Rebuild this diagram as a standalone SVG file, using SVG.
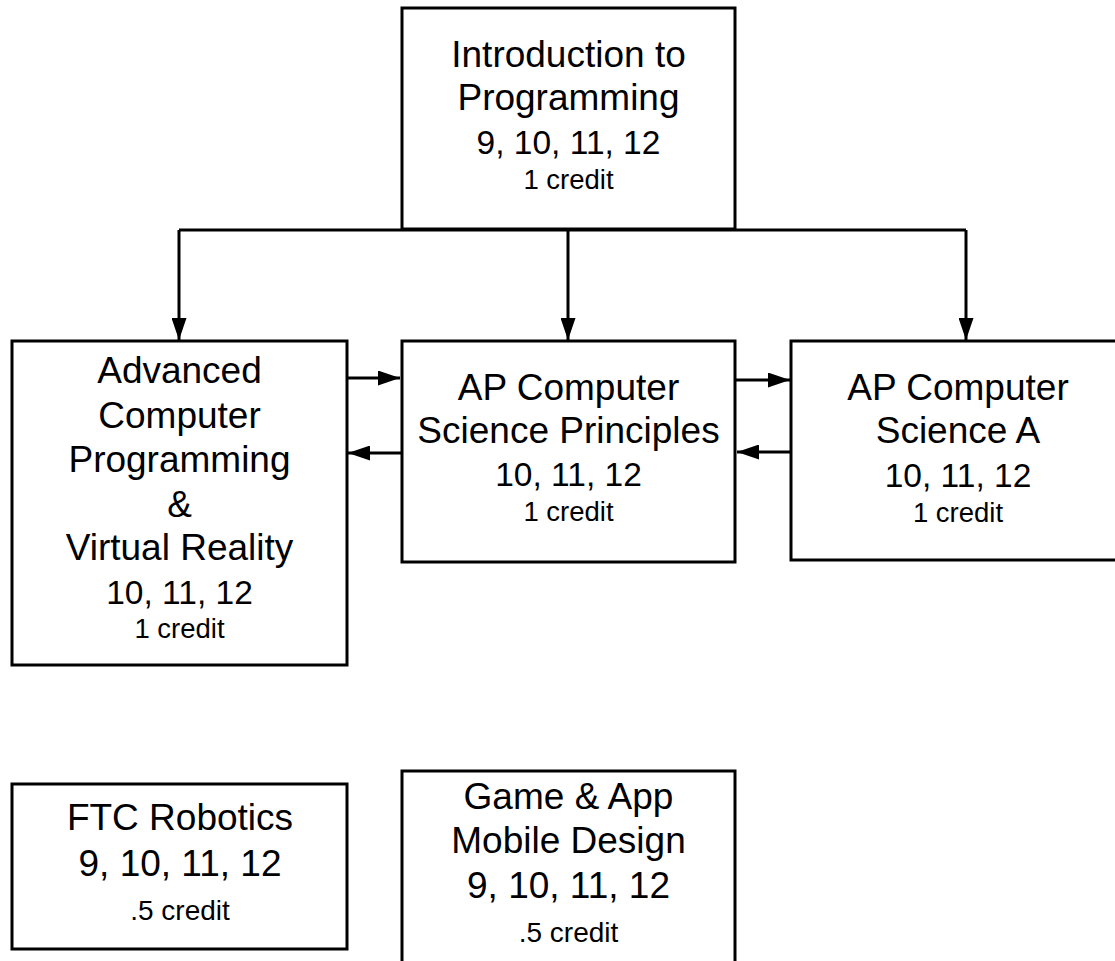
<svg xmlns="http://www.w3.org/2000/svg" width="1115" height="961" viewBox="0 0 1115 961">
<defs>
<marker id="ah" viewBox="0 0 22 15" refX="22" refY="7.5" markerWidth="22" markerHeight="15" markerUnits="userSpaceOnUse" orient="auto">
<path d="M0,0 L22,7.5 L0,15 z" fill="#000"/>
</marker>
</defs>
<style>
.box{fill:#fff;stroke:#000;stroke-width:3}
.t{font-family:"Liberation Sans",Arial,sans-serif;fill:#000;text-anchor:middle}
.b{font-size:37px}
.n{font-size:33.5px}
.c{font-size:27.5px}
.bb{font-size:37px}
.cc{font-size:28px}
.con{fill:none;stroke:#000;stroke-width:3}
</style>
<rect width="1115" height="961" fill="#fff"/>
<g id="connectors">
<path class="con" d="M179,230 H966"/>
<path class="con" d="M179,230 V340" marker-end="url(#ah)"/>
<path class="con" d="M568,230 V340" marker-end="url(#ah)"/>
<path class="con" d="M966,230 V340" marker-end="url(#ah)"/>
<path class="con" d="M347,378 H400" marker-end="url(#ah)"/>
<path class="con" d="M402,453 H348" marker-end="url(#ah)"/>
<path class="con" d="M735,380 H790" marker-end="url(#ah)"/>
<path class="con" d="M791,452 H737" marker-end="url(#ah)"/>
</g>
<g id="intro">
<rect class="box" x="402" y="8" width="333" height="221"/>
<text class="t b" x="568.5" y="67">Introduction to</text>
<text class="t b" x="568.5" y="110">Programming</text>
<text class="t n" x="568.5" y="154">9, 10, 11, 12</text>
<text class="t c" x="568.5" y="189">1 credit</text>
</g>
<g id="advanced">
<rect class="box" x="12" y="341" width="335" height="324"/>
<text class="t b" x="179.5" y="383">Advanced</text>
<text class="t b" x="179.5" y="428">Computer</text>
<text class="t b" x="179.5" y="472">Programming</text>
<text class="t b" x="179.5" y="517">&amp;</text>
<text class="t b" x="179.5" y="560">Virtual Reality</text>
<text class="t n" x="179.5" y="604">10, 11, 12</text>
<text class="t c" x="179.5" y="638">1 credit</text>
</g>
<g id="apcsp">
<rect class="box" x="402" y="341" width="333" height="221"/>
<text class="t b" x="568.5" y="400">AP Computer</text>
<text class="t b" x="568.5" y="443">Science Principles</text>
<text class="t n" x="568.5" y="486">10, 11, 12</text>
<text class="t c" x="568.5" y="521">1 credit</text>
</g>
<g id="apcsa">
<rect class="box" x="791" y="341" width="334" height="219"/>
<text class="t b" x="958" y="400">AP Computer</text>
<text class="t b" x="958" y="443">Science A</text>
<text class="t n" x="958" y="487">10, 11, 12</text>
<text class="t c" x="958" y="522">1 credit</text>
</g>
<g id="ftc">
<rect class="box" x="12" y="784" width="335" height="165"/>
<text class="t bb" x="180" y="830">FTC Robotics</text>
<text class="t bb" x="180" y="876">9, 10, 11, 12</text>
<text class="t cc" x="180" y="920">.5 credit</text>
</g>
<g id="game">
<rect class="box" x="402" y="771" width="333" height="210"/>
<text class="t bb" x="568.5" y="809">Game &amp; App</text>
<text class="t bb" x="568.5" y="853">Mobile Design</text>
<text class="t bb" x="568.5" y="898">9, 10, 11, 12</text>
<text class="t cc" x="568.5" y="942">.5 credit</text>
</g>
</svg>
